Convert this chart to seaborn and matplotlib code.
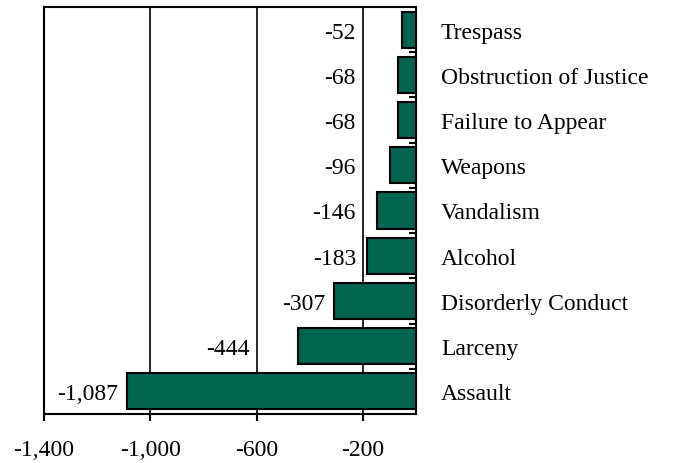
import matplotlib
matplotlib.use("Agg")
import matplotlib.pyplot as plt
import matplotlib.ticker as mticker
import numpy as np
import pandas as pd
import seaborn as sns

categories = ["Trespass", "Obstruction of Justice", "Failure to Appear", "Weapons",
              "Vandalism", "Alcohol", "Disorderly Conduct", "Larceny", "Assault"]
values = [-52, -68, -68, -96, -146, -183, -307, -444, -1087]
x_ticks = [-1400, -1000, -600, -200]

sns.set_style("white")
plt.rcParams['font.family'] = ['Liberation Serif', 'DejaVu Serif']
plt.rcParams['text.color'] = 'black'
plt.rcParams['xtick.color'] = 'black'
plt.rcParams['ytick.color'] = 'black'
plt.rcParams['xtick.labelcolor'] = 'black'
plt.rcParams['ytick.labelcolor'] = 'black'
FS = 17

df = pd.DataFrame({"category": categories, "value": values})

fig = plt.figure(figsize=(6.84, 4.64), dpi=100)
ax = fig.add_axes([44/684, 49/464, 372/684, 407/464])

sns.barplot(data=df, y="category", x="value", order=categories, orient="h",
            color="#006450", saturation=1, edgecolor="black", linewidth=1.5,
            width=0.8, ax=ax, zorder=3)

xmin, xmax = -1400, 0
ax.set_xlim(xmin, xmax)
ax.set_xticks(x_ticks)
ax.xaxis.set_major_formatter(mticker.FuncFormatter(lambda v, p: f"{int(v):,}"))
ax.xaxis.grid(True, color="black", linewidth=1.2, zorder=0)
ax.set_axisbelow(True)
ax.set_xlabel("")
ax.set_ylabel("")

# value labels: left of bar end, shifted left of a gridline if they would overlap it
units_per_px = (xmax - xmin) / 372.0
for i, v in enumerate(values):
    anchor = v
    offset = 6.5
    for g in x_ticks:
        if g < v and (v - g) / units_per_px < 50:
            anchor = g
            offset = 5
    ax.annotate(f"{v:,}", xy=(anchor, i), xytext=(-offset, 0), textcoords="offset points",
                ha="right", va="center_baseline", fontsize=FS, color="black")

ax.yaxis.tick_right()
ax.tick_params(axis="y", which="major", length=0, pad=18, labelsize=FS)
ax.set_yticks(np.arange(0.5, len(categories) - 0.5, 1), minor=True)
ax.tick_params(axis="y", which="minor", direction="in", length=5, width=1.5, right=True, left=False)
ax.tick_params(axis="x", which="major", direction="out", length=5, width=1.5, bottom=True,
               labelsize=FS, pad=13)

for s in ax.spines.values():
    s.set_color("black")
    s.set_linewidth(1.5)
    s.set_visible(True)

fig.savefig("out.png", dpi=100)
